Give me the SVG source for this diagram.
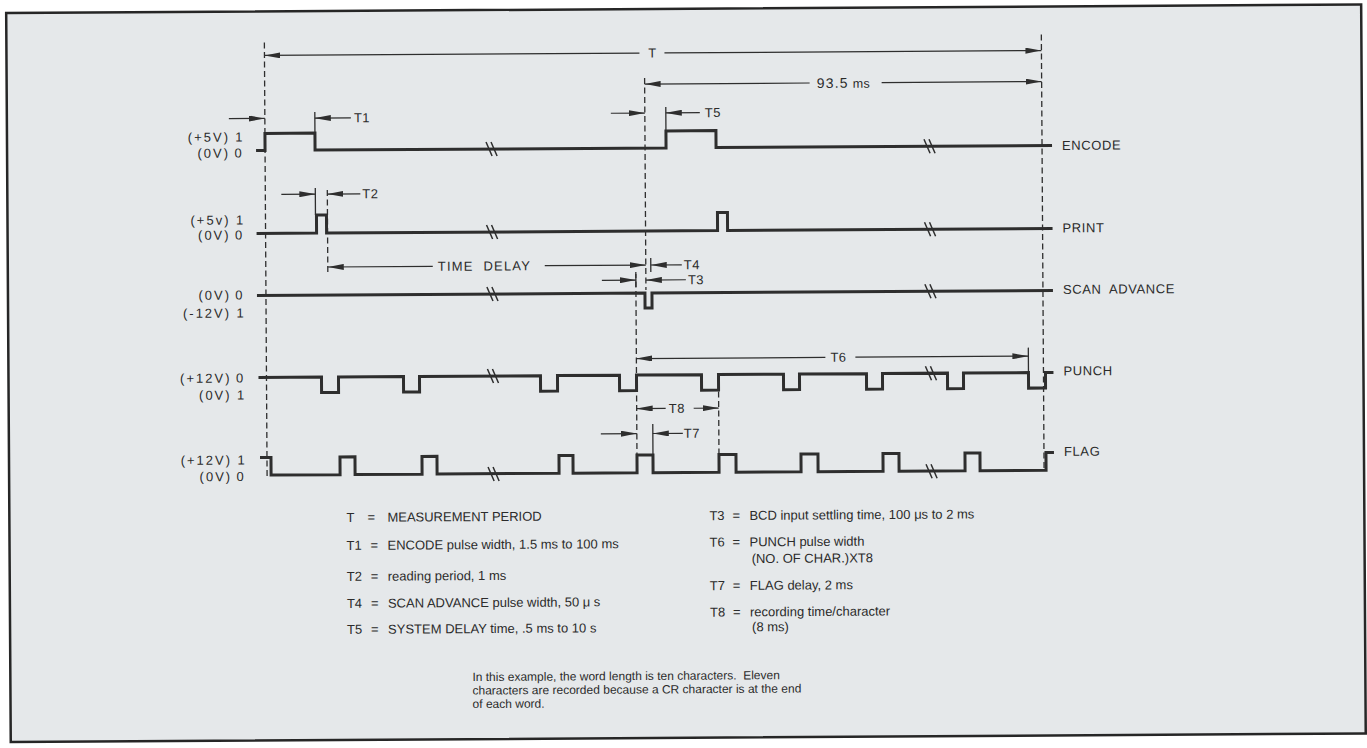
<svg xmlns="http://www.w3.org/2000/svg" width="1367" height="748" viewBox="0 0 1367 748">
<defs>
<style>
text{font-family:"Liberation Sans",Arial,sans-serif;fill:#2b2b2b}
.lbl{font-size:13px;letter-spacing:2px;text-anchor:end}
.dig{font-size:13px;text-anchor:middle}
.sig{font-size:13px;letter-spacing:0.6px}
.dim{font-size:13px;letter-spacing:0.5px}
.leg{font-size:13px}
.note{font-size:12px;white-space:pre}
.wave{fill:none;stroke:#2e2e2e;stroke-width:3;stroke-linejoin:miter;stroke-linecap:butt}
.brk{fill:none;stroke:#2e2e2e;stroke-width:1.5}
.dash{fill:none;stroke:#2e2e2e;stroke-width:1.3;stroke-dasharray:6 3.5}
.tick{fill:none;stroke:#2e2e2e;stroke-width:1.3}
.arr{fill:none;stroke:#2e2e2e;stroke-width:1.2}
.ae{marker-end:url(#ah)}
.as{marker-start:url(#ahs)}
</style>
<marker id="ah" viewBox="0 0 16 6" refX="16" refY="3" markerWidth="16" markerHeight="6" markerUnits="userSpaceOnUse" orient="auto"><path d="M0,0 L16,3 L0,6 Z" fill="#2e2e2e"/></marker>
<marker id="ahs" viewBox="0 0 16 6" refX="16" refY="3" markerWidth="16" markerHeight="6" markerUnits="userSpaceOnUse" orient="auto-start-reverse"><path d="M0,0 L16,3 L0,6 Z" fill="#2e2e2e"/></marker>
</defs>
<rect x="0" y="0" width="1367" height="748" fill="#ffffff"/>
<g transform="rotate(-0.36 650 300)">
<rect id="frame" x="8" y="9" width="1355" height="729" fill="#e5e8ea" stroke="#262626" stroke-width="2.5"/>

<g id="connectors">
<path class="dash" d="M266,40 V476"/>
<path class="dash" d="M1043,37 V472"/>
<path class="dash" d="M646,78 V290"/>
<path class="dash" d="M636,272 V456"/>
<path class="dash" d="M328,188 V272"/>
<path class="dash" d="M718,392 V455"/>
<path class="tick" d="M316,110 V131 M316,186 V213 M667,107 V130 M651,258 V272 M636,274 V287 M652,424 V455 M1028,350 V375"/>
<path class="arr as" d="M266,53 H641"/>
<path class="arr ae" d="M666,53 H1043"/>
<path class="arr as" d="M646,84 H811"/>
<path class="arr ae" d="M883,84 H1043"/>
<path class="arr ae" d="M230,116 H266"/>
<path class="arr ae" d="M352,116 H316"/>
<path class="arr ae" d="M612,113 H646"/>
<path class="arr ae" d="M701,113 H667"/>
<path class="arr ae" d="M282,192 H316"/>
<path class="arr ae" d="M361,192 H328"/>
<path class="arr as" d="M328,265 H433"/>
<path class="arr ae" d="M545,265 H646"/>
<path class="arr ae" d="M682,265 H651"/>
<path class="arr ae" d="M602,280 H636"/>
<path class="arr ae" d="M686,280 H646"/>
<path class="arr as" d="M636,358.5 H825"/>
<path class="arr ae" d="M855,358.5 H1028"/>
<path class="arr as" d="M636,408.5 H665"/>
<path class="arr ae" d="M693,408.5 H718"/>
<path class="arr ae" d="M600,433.5 H636"/>
<path class="arr ae" d="M682,433.5 H652"/>
</g>

<g id="dim-labels">
<text class="dim" x="654" y="57.5" text-anchor="middle">T</text>
<text x="818" y="89" style="font-size:14px;letter-spacing:1.2px">93.5<tspan style="font-size:12.5px;letter-spacing:0.5px"> ms</tspan></text>
<text class="dim" x="355" y="120.5">T1</text>
<text class="dim" x="706" y="117.5">T5</text>
<text class="dim" x="363" y="196.5">T2</text>
<text class="dim" x="438" y="269.5" style="letter-spacing:1.2px;word-spacing:5px">TIME DELAY</text>
<text class="dim" x="684" y="269.5">T4</text>
<text class="dim" x="688" y="284.5">T3</text>
<text class="dim" x="830" y="363">T6</text>
<text class="dim" x="668" y="413">T8</text>
<text class="dim" x="683" y="438">T7</text>
</g>

<g id="encode">
<path class="wave" d="M257,148 H266 V131 H316 V148 H667 V131 H717 V148 H1053"/>
<path class="brk" d="M487,141 L493,155 M492,141 L498,155 M925,141 L931,155 M930,141 L936,155"/>
<text class="lbl" x="231" y="139">(+5V)</text>
<text class="dig" x="240" y="139">1</text>
<text class="lbl" x="231" y="155">(0V)</text>
<text class="dig" x="239" y="155">0</text>
<text class="sig" x="1063" y="152.5">ENCODE</text>
</g>

<g id="print">
<path class="wave" d="M257,231 H317 V213 H327 V231 H718 V213 H728 V231 H1053"/>
<path class="brk" d="M487,224 L493,238 M492,224 L498,238 M925,224 L931,238 M930,224 L936,238"/>
<text class="lbl" x="231" y="222">(+5v)</text>
<text class="dig" x="240" y="222">1</text>
<text class="lbl" x="231" y="237">(0V)</text>
<text class="dig" x="239" y="237">0</text>
<text class="sig" x="1063" y="235">PRINT</text>
</g>

<g id="scan-advance">
<path class="wave" d="M257,293 H645 V308 H652 V293 H1053"/>
<path class="brk" d="M487,286 L493,300 M492,286 L498,300 M925,286 L931,300 M930,286 L936,300"/>
<text class="lbl" x="231" y="297">(0V)</text>
<text class="dig" x="239" y="297">0</text>
<text class="lbl" x="231" y="315">(-12V)</text>
<text class="dig" x="240" y="315">1</text>
<text class="sig" x="1063" y="296.5" style="word-spacing:4px">SCAN ADVANCE</text>
</g>

<g id="punch">
<path class="wave" d="M258,375 H321 V390.5 H338 V375 H403 V390.5 H419 V375 H540 V390.5 H557 V375 H619 V390.5 H636 V375 H701 V390.5 H718 V375 H783 V390.5 H799 V375 H866 V390.5 H882 V375 H947 V390.5 H963 V375 H1028 V390.5 H1045 V375 H1053"/>
<path class="brk" d="M487,368 L493,382 M492,368 L498,382 M925,368 L931,382 M930,368 L936,382"/>
<text class="lbl" x="231" y="380">(+12V)</text>
<text class="dig" x="239" y="380">0</text>
<text class="lbl" x="231" y="397">(0V)</text>
<text class="dig" x="240" y="397">1</text>
<text class="sig" x="1063" y="378">PUNCH</text>
</g>

<g id="flag">
<path class="wave" d="M259,455 H270 V472.7 H339 V455 H354 V472.7 H421 V455 H436 V472.7 H558 V455 H572 V472.7 H636 V455 H652 V472.7 H718 V455 H735 V472.7 H800 V455 H817 V472.7 H882 V455 H898 V472.7 H964 V455 H979 V472.7 H1045 V455 H1053"/>
<path class="brk" d="M487,466 L493,480 M492,466 L498,480 M925,466 L931,480 M930,466 L936,480"/>
<text class="lbl" x="231" y="462">(+12V)</text>
<text class="dig" x="240" y="462">1</text>
<text class="lbl" x="231" y="478.5">(0V)</text>
<text class="dig" x="239" y="478.5">0</text>
<text class="sig" x="1063" y="458.5">FLAG</text>
</g>

<g id="legend">
<text class="leg" x="345" y="520">T</text><text class="leg" x="366" y="520">=</text><text class="leg" x="386" y="520">MEASUREMENT PERIOD</text>
<text class="leg" x="345" y="548">T1</text><text class="leg" x="369" y="548">=</text><text class="leg" x="386" y="548">ENCODE pulse width, 1.5 ms to 100 ms</text>
<text class="leg" x="345" y="579">T2</text><text class="leg" x="369" y="579">=</text><text class="leg" x="386" y="579">reading period, 1 ms</text>
<text class="leg" x="345" y="606">T4</text><text class="leg" x="369" y="606">=</text><text class="leg" x="386" y="606">SCAN ADVANCE pulse width, 50 μ s</text>
<text class="leg" x="345" y="632">T5</text><text class="leg" x="369" y="632">=</text><text class="leg" x="386" y="632">SYSTEM DELAY time, .5 ms to 10 s</text>
<text class="leg" x="708" y="520.5">T3</text><text class="leg" x="731" y="520.5">=</text><text class="leg" x="748" y="520.5">BCD input settling time, 100 μs to 2 ms</text>
<text class="leg" x="708" y="547">T6</text><text class="leg" x="731" y="547">=</text><text class="leg" x="748" y="547">PUNCH pulse width</text>
<text class="leg" x="750" y="563.7">(NO. OF CHAR.)XT8</text>
<text class="leg" x="708" y="590.5">T7</text><text class="leg" x="731" y="590.5">=</text><text class="leg" x="748" y="590.5">FLAG delay, 2 ms</text>
<text class="leg" x="708" y="617">T8</text><text class="leg" x="731" y="617">=</text><text class="leg" x="748" y="617">recording time/character</text>
<text class="leg" x="750" y="632">(8 ms)</text>
</g>

<g id="note">
<text class="note" x="470" y="680">In this example, the word length is ten characters.  Eleven</text>
<text class="note" x="470" y="693.5">characters are recorded because a CR character is at the end</text>
<text class="note" x="470" y="707">of each word.</text>
</g>
</g>
</svg>
